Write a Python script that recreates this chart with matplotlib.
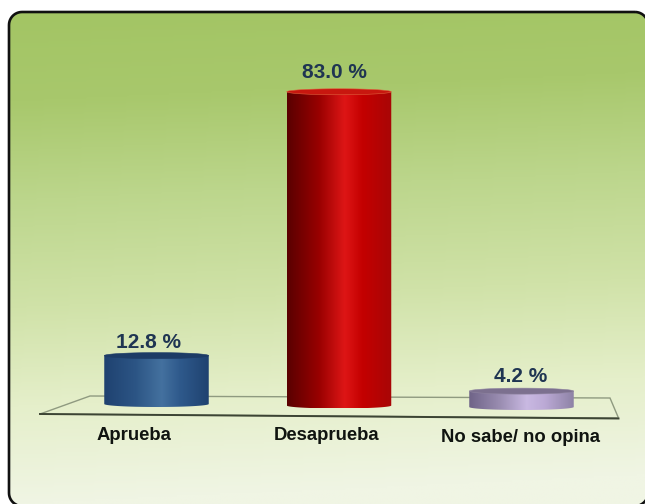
import numpy as np
import matplotlib
matplotlib.use("Agg")
import matplotlib.pyplot as plt
from matplotlib.patches import PathPatch, Polygon
from matplotlib.path import Path
from matplotlib.colors import LinearSegmentedColormap

categories = ["Aprueba", "Desaprueba", "No sabe/ no opina"]
values = [12.8, 83.0, 4.2]
value_labels = ["12.8 %", "83.0 %", "4.2 %"]
shades = [
    ["#1f4270", "#2c5585", "#44719f", "#2f5a8c", "#1f4270"],
    ["#5a0000", "#980000", "#de1616", "#c40000", "#a80606"],
    ["#6f6488", "#9b8eb2", "#c9b9e2", "#bcaad6", "#8e83a6"],
]
top_colors = ["#1d3c66", "#c8170f", "#7c708f"]
rim_colors = ["#1d3c66", "#e0603c", "#8f84a0"]
value_offsets_px = [(-8, 343), (-5, 72), (-1, 377)]
cat_offsets_px = [(-23, 435), (-12, 436), (-1, 438)]

W, H = 645, 504
plt.rcParams["font.family"] = ["Liberation Sans", "DejaVu Sans"]
fig = plt.figure(figsize=(W / 100, H / 100), dpi=100, facecolor="white")


def rounded_rect(x0, y0, x1, y1, r):
    a = np.linspace(0, np.pi / 2, 12)
    pts = [np.c_[x1 - r + r * np.cos(a - np.pi / 2), y0 + r + r * np.sin(a - np.pi / 2)],
           np.c_[x1 - r + r * np.cos(a), y1 - r + r * np.sin(a)],
           np.c_[x0 + r + r * np.cos(a + np.pi / 2), y1 - r + r * np.sin(a + np.pi / 2)],
           np.c_[x0 + r + r * np.cos(a + np.pi), y0 + r + r * np.sin(a + np.pi)]]
    v = np.vstack(pts)
    return Path(np.vstack([v, v[:1]]), closed=True)


# Background layer in pixel coordinates
bg = fig.add_axes([0, 0, 1, 1])
bg.set_xlim(0, W)
bg.set_ylim(H, 0)
bg.axis("off")
grad_cmap = LinearSegmentedColormap.from_list(
    "g", [(0, "#a3c564"), (0.18, "#a8c86c"), (0.38, "#bcd68c"), (0.6, "#d0e2a8"),
          (0.8, "#e5efca"), (1, "#f0f5e4")])
panel = PathPatch(rounded_rect(9, 12, 648, 506, 13), fc="none", ec="#111111", lw=1.9, zorder=3)
bg.add_patch(panel)
yy, xx = np.mgrid[0:1:256j, 0:1:256j]
im = bg.imshow(np.clip(yy + 0.06 * xx, 0, 1), cmap=grad_cmap, extent=(9, 648, 506, 12),
               aspect="auto", zorder=1, vmin=0, vmax=1)
im.set_clip_path(panel)
bg.set_xlim(0, W)
bg.set_ylim(H, 0)
bg.add_patch(Polygon([(40, 414), (90, 396), (610, 398), (618.5, 418)], closed=True,
                     fc="none", ec="#8f9a80", lw=1.0, zorder=2))
bg.plot([40, 618.5], [414, 418.5], color="#3c4434", lw=1.4, zorder=2)

# Data layer: x in category index, y in percent
ax = fig.add_axes([0, 0, 1, 1])
ax.patch.set_alpha(0)
ax.axis("off")
x0, dx = 156.5, 182.5
scale = 3.78
base_px = 405.5
xlim = (-x0 / dx, (W - x0) / dx)
ylim = ((base_px - H) / scale, base_px / scale)
width = 104.5 / dx
ry = 3 / scale
tilt = 1.5 / scale  # floor tilt, in percent units per category
x = np.arange(len(categories))
bars = ax.bar(x, values, width=width, bottom=(1 - x) * tilt, color="none")
px = lambda cx, dxpx: cx + dxpx / dx
for bar, shade, top_c, rim_c, cat, lab, cx, vo, co in zip(
        bars, shades, top_colors, rim_colors, categories, value_labels, x,
        value_offsets_px, cat_offsets_px):
    l, b, w, h = bar.get_x(), bar.get_y(), bar.get_width(), bar.get_height()
    t = np.linspace(0, np.pi, 60)
    xs = cx + w / 2 * np.cos(t)
    body = np.vstack([np.c_[xs, np.full_like(xs, b + h)],
                      np.c_[xs[::-1], b - ry * np.sin(t[::-1])]])
    clip = PathPatch(Path(np.vstack([body, body[:1]])), fc="none", ec="none",
                     transform=ax.transData)
    ax.add_patch(clip)
    cm = LinearSegmentedColormap.from_list("c", shade)
    g = np.interp(np.linspace(0, 1, 256), [0, 0.3, 0.55, 0.72, 1], [0, 0.25, 0.5, 0.75, 1])
    img = ax.imshow(g[None, :], cmap=cm, extent=(l, l + w, b - ry, b + h), aspect="auto",
                    zorder=3, vmin=0, vmax=1)
    img.set_clip_path(clip)
    top = np.c_[cx + w / 2 * np.cos(2 * t), b + h + ry * np.sin(2 * t)]
    ax.add_patch(Polygon(top, closed=True, fc=top_c, ec=rim_c, lw=0.4, zorder=4))
    ax.text(px(cx, vo[0]), (base_px - vo[1]) / scale, lab, ha="center", va="center",
            fontsize=15, fontweight="bold", color="#1f3552", zorder=5)
    ax.text(px(cx, co[0]), (base_px - co[1]) / scale, cat, ha="center", va="center",
            fontsize=13.3, fontweight="bold", color="#101410", zorder=5)
ax.set_xlim(*xlim)
ax.set_ylim(*ylim)
fig.savefig("out.png", dpi=100)
